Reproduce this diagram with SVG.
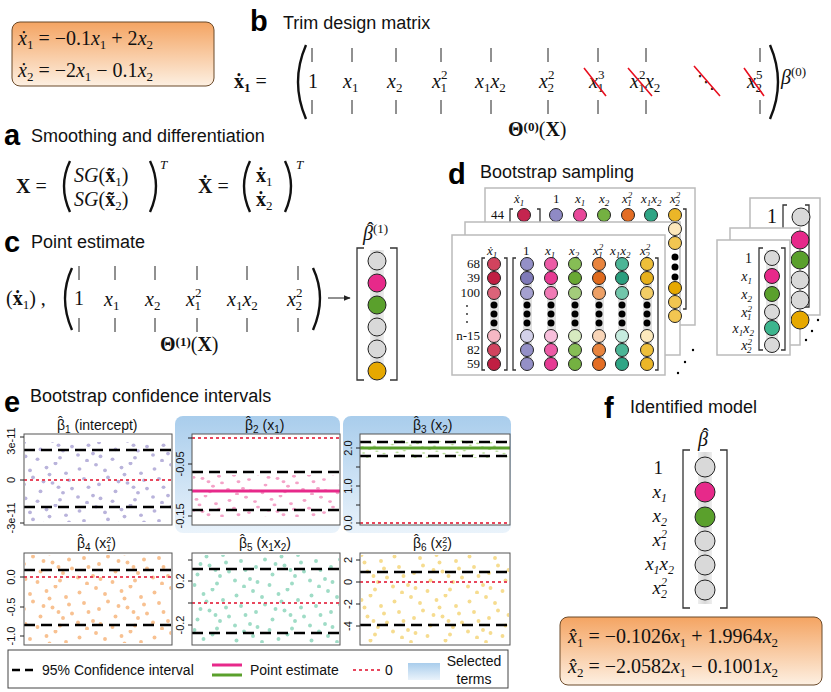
<svg xmlns="http://www.w3.org/2000/svg" width="831" height="692" viewBox="0 0 831 692">
<style>
.h{font-family:"Liberation Sans",Arial,sans-serif;font-size:18px;fill:#111}
.L{font-family:"Liberation Sans",Arial,sans-serif;font-size:29px;font-weight:bold;fill:#000}
.m{font-family:"Liberation Serif",serif;font-style:italic;font-size:20px;fill:#111}
.r{font-family:"Liberation Serif",serif;font-size:20px;fill:#111}
.b{font-family:"Liberation Serif",serif;font-weight:bold;font-size:20px;fill:#111}
.s{font-family:"Liberation Serif",serif;font-style:normal;font-size:13px;fill:#111}
.si{font-family:"Liberation Serif",serif;font-style:italic;font-size:13px;fill:#111}
.ax{font-family:"Liberation Sans",Arial,sans-serif;font-size:11px;fill:#111}
.pt{font-family:"Liberation Sans",Arial,sans-serif;font-size:14px;fill:#111}
.bar{stroke:#222;stroke-width:1;fill:none}
.par{stroke:#111;stroke-width:2.4;fill:none}
.brk{stroke:#333;stroke-width:1.3;fill:none}
.cc{stroke:#222;stroke-width:1}
.card{fill:#fff;stroke:#bbb;stroke-width:1.5}
.dash{stroke:#000;stroke-width:2.5;stroke-dasharray:11,6}
.zero{stroke:#e8475d;stroke-width:1.8;stroke-dasharray:3,3}
.box{fill:none;stroke:#555;stroke-width:1}
.x{stroke:#e8101f;stroke-width:1.6}
</style>
<defs>
<linearGradient id="og" x1="0" y1="0" x2="0" y2="1"><stop offset="0" stop-color="#f4a462"/><stop offset="1" stop-color="#fdf0e2"/></linearGradient>
<linearGradient id="bg" x1="0" y1="0" x2="0" y2="1"><stop offset="0" stop-color="#a9cdec"/><stop offset="1" stop-color="#eaf3fb"/></linearGradient>
<linearGradient id="gv" x1="0" y1="0" x2="1" y2="0"><stop offset="0" stop-color="#eee"/><stop offset="0.5" stop-color="#d8d8d8"/><stop offset="1" stop-color="#eee"/></linearGradient>
<marker id="ar" viewBox="0 0 10 10" refX="9" refY="5" markerWidth="7" markerHeight="7" orient="auto"><path d="M0,1 L10,5 L0,9 z" fill="#222"/></marker>
<g id="dots">
<circle cx="3" cy="5" r="1.3"/><circle cx="9" cy="18" r="1.3"/><circle cx="14" cy="2" r="1.3"/><circle cx="17" cy="26" r="1.3"/><circle cx="22" cy="11" r="1.3"/><circle cx="27" cy="21" r="1.3"/><circle cx="31" cy="4" r="1.3"/><circle cx="35" cy="15" r="1.3"/><circle cx="40" cy="27" r="1.3"/><circle cx="44" cy="8" r="1.3"/><circle cx="48" cy="19" r="1.3"/><circle cx="6" cy="12" r="1.3"/><circle cx="12" cy="24" r="1.3"/><circle cx="20" cy="6" r="1.3"/><circle cx="25" cy="28" r="1.3"/><circle cx="29" cy="14" r="1.3"/><circle cx="37" cy="1" r="1.3"/><circle cx="42" cy="22" r="1.3"/><circle cx="46" cy="13" r="1.3"/><circle cx="2" cy="25" r="1.3"/><circle cx="16" cy="16" r="1.3"/><circle cx="33" cy="9" r="1.3"/><circle cx="39" cy="18" r="1.3"/><circle cx="8" cy="29" r="1.3"/>
</g>
<pattern id="p1" width="50" height="30" patternUnits="userSpaceOnUse" patternTransform="scale(1.5,1.4)"><use href="#dots" fill="#b9b3db"/></pattern>
<pattern id="p2" width="50" height="30" patternUnits="userSpaceOnUse" patternTransform="scale(1.5,1.1)"><use href="#dots" fill="#f4a3c8"/></pattern>
<pattern id="p3" width="50" height="30" patternUnits="userSpaceOnUse" patternTransform="scale(1.2,0.6)"><use href="#dots" fill="#b7dc95"/></pattern>
<pattern id="p4" width="50" height="30" patternUnits="userSpaceOnUse" patternTransform="scale(1.5,1.5)"><use href="#dots" fill="#f8c191"/></pattern>
<pattern id="p5" width="50" height="30" patternUnits="userSpaceOnUse" patternTransform="translate(7,3) scale(1.5,1.5)"><use href="#dots" fill="#9fdcc6"/></pattern>
<pattern id="p6" width="50" height="30" patternUnits="userSpaceOnUse" patternTransform="translate(15,9) scale(1.5,1.5)"><use href="#dots" fill="#f6dc8f"/></pattern>
</defs>
<rect width="831" height="692" fill="#fff"/>

<g id="system">
<rect x="12" y="22" width="202" height="64" rx="8" fill="url(#og)" stroke="#6b4a2a" stroke-width="1"/>
<text class="m" x="18" y="45">ẋ<tspan class="s" dy="4">1</tspan><tspan dy="-4" font-style="normal"> = −0.1</tspan>x<tspan class="s" dy="4">1</tspan><tspan dy="-4" font-style="normal"> + 2</tspan>x<tspan class="s" dy="4">2</tspan></text>
<text class="m" x="18" y="77">ẋ<tspan class="s" dy="4">2</tspan><tspan dy="-4" font-style="normal"> = −2</tspan>x<tspan class="s" dy="4">1</tspan><tspan dy="-4" font-style="normal"> − 0.1</tspan>x<tspan class="s" dy="4">2</tspan></text>
</g>

<g id="panel-b">
<text class="L" x="250" y="31">b</text>
<text class="h" x="283" y="29">Trim design matrix</text>
<text class="b" x="234" y="88">ẋ<tspan class="s" dy="4">1</tspan><tspan dy="-4" font-weight="normal"> =</tspan></text>
<path class="par" d="M306,45 Q290,82 306,119"/>
<path class="par" d="M770,45 Q786,82 770,119"/>
<path class="bar" d="M312,48v14M312,100v14M352,48v14M352,100v14M396,48v14M396,100v14M441,48v14M441,100v14M491,48v14M491,100v14M548,48v14M548,100v14M598,48v14M598,100v14M646,48v14M646,100v14M760,48v14M760,100v14"/>
<text class="r" x="308" y="88">1</text>
<text class="m" x="343" y="88">x<tspan class="s" dy="4">1</tspan></text>
<text class="m" x="387" y="88">x<tspan class="s" dy="4">2</tspan></text>
<text class="m" x="432" y="88">x<tspan class="s" dy="-9">2</tspan><tspan class="s" dx="-7" dy="13">1</tspan></text>
<text class="m" x="475" y="88">x<tspan class="s" dy="4">1</tspan><tspan dy="-4">x</tspan><tspan class="s" dy="4">2</tspan></text>
<text class="m" x="539" y="88">x<tspan class="s" dy="-9">2</tspan><tspan class="s" dx="-7" dy="13">2</tspan></text>
<text class="m" x="589" y="88">x<tspan class="s" dy="-9">3</tspan><tspan class="s" dx="-7" dy="13">1</tspan></text>
<text class="m" x="630" y="88">x<tspan class="s" dy="-9">2</tspan><tspan class="s" dx="-7" dy="13">1</tspan><tspan dy="-4">x</tspan><tspan class="s" dy="4">2</tspan></text>
<text x="697" y="88" font-family="DejaVu Sans,sans-serif" font-size="18" fill="#111">⋱</text>
<text class="m" x="747" y="88">x<tspan class="s" dy="-9">5</tspan><tspan class="s" dx="-7" dy="13">2</tspan></text>
<path class="x" d="M584,68L606,96M628,68L652,96M694,66L720,96M744,68L764,96"/>
<text class="m" x="781" y="84">β<tspan class="s" dy="-8">(0)</tspan></text>
<text class="b" x="508" y="136" font-size="15">Θ<tspan class="s" dy="-5">(0)</tspan><tspan font-weight="normal" dy="5">(</tspan>X<tspan font-weight="normal">)</tspan></text>
</g>

<g id="panel-a">
<text class="L" x="4" y="145">a</text>
<text class="h" x="31" y="142">Smoothing and differentiation</text>
<text class="b" x="16" y="193">X<tspan font-weight="normal"> =</tspan></text>
<path class="par" d="M70,161 Q58,186 70,212"/>
<path class="par" d="M150,161 Q162,186 150,212"/>
<text class="m" x="74" y="182">SG<tspan font-style="normal">(</tspan><tspan font-weight="bold" font-style="normal">x̃</tspan><tspan class="s" dy="4">1</tspan><tspan dy="-4" font-style="normal">)</tspan></text>
<text class="m" x="74" y="206">SG<tspan font-style="normal">(</tspan><tspan font-weight="bold" font-style="normal">x̃</tspan><tspan class="s" dy="4">2</tspan><tspan dy="-4" font-style="normal">)</tspan></text>
<text class="si" x="160" y="169">T</text>
<text class="b" x="198" y="193">Ẋ<tspan font-weight="normal"> =</tspan></text>
<path class="par" d="M250,161 Q238,186 250,212"/>
<path class="par" d="M285,161 Q297,186 285,212"/>
<text class="b" x="256" y="182">ẋ<tspan class="s" font-weight="normal" dy="4">1</tspan></text>
<text class="b" x="256" y="206">ẋ<tspan class="s" font-weight="normal" dy="4">2</tspan></text>
<text class="si" x="296" y="169">T</text>
</g>

<g id="panel-c">
<text class="L" x="4" y="252">c</text>
<text class="h" x="31" y="248">Point estimate</text>
<text class="r" x="6" y="305">(<tspan font-weight="bold">ẋ</tspan><tspan class="s" dy="4">1</tspan><tspan dy="-4">) ,</tspan></text>
<path class="par" d="M72,268 Q58,298 72,330"/>
<path class="par" d="M313,268 Q327,298 313,330"/>
<path class="bar" d="M79,266v14M79,318v14M115,266v14M115,318v14M155,266v14M155,318v14M197,266v14M197,318v14M247,266v14M247,318v14M298,266v14M298,318v14"/>
<text class="r" x="74" y="305">1</text>
<text class="m" x="104" y="306">x<tspan class="s" dy="4">1</tspan></text>
<text class="m" x="145" y="306">x<tspan class="s" dy="4">2</tspan></text>
<text class="m" x="186" y="306">x<tspan class="s" dy="-9">2</tspan><tspan class="s" dx="-7" dy="13">1</tspan></text>
<text class="m" x="227" y="306">x<tspan class="s" dy="4">1</tspan><tspan dy="-4">x</tspan><tspan class="s" dy="4">2</tspan></text>
<text class="m" x="287" y="306">x<tspan class="s" dy="-9">2</tspan><tspan class="s" dx="-7" dy="13">2</tspan></text>
<text class="b" x="160" y="351" font-size="15">Θ<tspan class="s" dy="-5">(1)</tspan><tspan font-weight="normal" dy="5">(</tspan>X<tspan font-weight="normal">)</tspan></text>
<line x1="328" y1="298" x2="350" y2="298" stroke="#222" stroke-width="1" marker-end="url(#ar)"/>
<text class="m" x="363" y="240">β<tspan class="s" dy="-7">(1)</tspan></text>
<text class="r" x="367" y="237" font-size="16">ˆ</text>
<rect x="370" y="250" width="14" height="130" fill="url(#gv)"/>
<path class="brk" d="M364,248h-7v132h7M390,248h7v132h-7"/>
<circle class="cc" cx="377" cy="261" r="9" fill="#d9d9d9"/>
<circle class="cc" cx="377" cy="283" r="9" fill="#e7298a"/>
<circle class="cc" cx="377" cy="305" r="9" fill="#5aa02c"/>
<circle class="cc" cx="377" cy="327" r="9" fill="#d9d9d9"/>
<circle class="cc" cx="377" cy="349" r="9" fill="#d9d9d9"/>
<circle class="cc" cx="377" cy="371" r="9" fill="#e6a800"/>
</g>

<g id="panel-d">
<text class="L" x="448" y="184">d</text>
<text class="h" x="480" y="178">Bootstrap sampling</text>
<rect class="card" x="485" y="188" width="210" height="137"/>
<text class="si" x="514" y="203">ẋ<tspan font-size="9" dy="3">1</tspan></text>
<text class="s" x="553" y="203">1</text><text class="si" x="575" y="203">x<tspan font-size="9" dy="3">1</tspan></text><text class="si" x="599" y="203">x<tspan font-size="9" dy="3">2</tspan></text><text class="si" x="622" y="203">x<tspan font-size="9" dy="-5">2</tspan><tspan font-size="9" dx="-5" dy="8">1</tspan></text><text class="si" x="641" y="203">x<tspan font-size="9" dy="3">1</tspan><tspan dy="-3">x</tspan><tspan font-size="9" dy="3">2</tspan></text><text class="si" x="670" y="203">x<tspan font-size="9" dy="-5">2</tspan><tspan font-size="9" dx="-5" dy="8">2</tspan></text>
<text class="s" x="491" y="219">44</text>
<path class="brk" d="M513,209h-3v100h3M537,209h3v100h-3"/>
<circle class="cc" cx="524" cy="215" r="6.5" fill="#c5254f"/>
<circle class="cc" cx="556" cy="215" r="6.5" fill="#8f8ac5"/><circle class="cc" cx="580" cy="215" r="6.5" fill="#e8489a"/><circle class="cc" cx="604" cy="215" r="6.5" fill="#74b141"/><circle class="cc" cx="628" cy="215" r="6.5" fill="#e36d24"/><circle class="cc" cx="651" cy="215" r="6.5" fill="#2fa585"/><circle class="cc" cx="675" cy="215" r="6.5" fill="#ebb628"/>
<path class="brk" d="M683,209h3v100h-3"/>
<rect class="card" x="465" y="222" width="215" height="133"/>
<circle class="cc" cx="675" cy="229" r="6.5" fill="#fde8bb"/><circle class="cc" cx="675" cy="243" r="6.5" fill="#f2c651"/>
<circle cx="675" cy="257" r="3.5"/><circle cx="675" cy="267" r="3.5"/><circle cx="675" cy="277" r="3.5"/>
<circle class="cc" cx="675" cy="288" r="6.5" fill="#e6a800"/><circle class="cc" cx="675" cy="302" r="6.5" fill="#f2c651"/><circle class="cc" cx="675" cy="316" r="6.5" fill="#f2c651"/>
<rect class="card" x="452" y="235" width="213" height="140"/>
<text class="si" x="487" y="255">ẋ<tspan font-size="9" dy="3">1</tspan></text>
<text class="s" x="523" y="255">1</text><text class="si" x="545" y="255">x<tspan font-size="9" dy="3">1</tspan></text><text class="si" x="569" y="255">x<tspan font-size="9" dy="3">2</tspan></text><text class="si" x="593" y="255">x<tspan font-size="9" dy="-5">2</tspan><tspan font-size="9" dx="-5" dy="8">1</tspan></text><text class="si" x="610" y="255">x<tspan font-size="9" dy="3">1</tspan><tspan dy="-3">x</tspan><tspan font-size="9" dy="3">2</tspan></text><text class="si" x="640" y="255">x<tspan font-size="9" dy="-5">2</tspan><tspan font-size="9" dx="-5" dy="8">2</tspan></text>
<g class="s" text-anchor="end"><text x="480" y="268">68</text><text x="480" y="282">39</text><text x="480" y="297">100</text><text x="480" y="340">n-15</text><text x="480" y="354">82</text><text x="480" y="368">59</text></g>
<g fill="#222"><circle cx="467" cy="306" r="0.9"/><circle cx="467" cy="314" r="0.9"/><circle cx="467" cy="322" r="0.9"/></g>
<path class="brk" d="M485,258h-3v112h3M504,258h3v112h-3M516,258h-3v112h3M655,258h3v112h-3"/>
<g fill="#e0e0e0">
<rect x="490" y="262" width="9" height="102"/><rect x="523" y="262" width="9" height="102"/><rect x="547" y="262" width="9" height="102"/><rect x="571" y="262" width="9" height="102"/><rect x="595" y="262" width="9" height="102"/><rect x="618" y="262" width="9" height="102"/><rect x="643" y="262" width="9" height="102"/>
</g>
<g class="cc">
<circle cx="494" cy="264" r="6.5" fill="#d1435e"/><circle cx="494" cy="278" r="6.5" fill="#c01f43"/><circle cx="494" cy="293" r="6.5" fill="#db6379"/><circle cx="494" cy="336" r="6.5" fill="#f6b8c4"/><circle cx="494" cy="350" r="6.5" fill="#d1435e"/><circle cx="494" cy="364" r="6.5" fill="#c01f43"/>
<circle cx="527" cy="264" r="6.5" fill="#9490c7"/><circle cx="527" cy="278" r="6.5" fill="#7f7ab8"/><circle cx="527" cy="293" r="6.5" fill="#a5a1d0"/><circle cx="527" cy="336" r="6.5" fill="#d3d1e9"/><circle cx="527" cy="350" r="6.5" fill="#9490c7"/><circle cx="527" cy="364" r="6.5" fill="#9490c7"/>
<circle cx="551" cy="264" r="6.5" fill="#ec5ba6"/><circle cx="551" cy="278" r="6.5" fill="#e63a93"/><circle cx="551" cy="293" r="6.5" fill="#f07ab5"/><circle cx="551" cy="336" r="6.5" fill="#f8bfdc"/><circle cx="551" cy="350" r="6.5" fill="#ec5ba6"/><circle cx="551" cy="364" r="6.5" fill="#e63a93"/>
<circle cx="575" cy="264" r="6.5" fill="#86bd55"/><circle cx="575" cy="278" r="6.5" fill="#69a833"/><circle cx="575" cy="293" r="6.5" fill="#a3cc7b"/><circle cx="575" cy="336" r="6.5" fill="#d7ebc0"/><circle cx="575" cy="350" r="6.5" fill="#86bd55"/><circle cx="575" cy="364" r="6.5" fill="#74b141"/>
<circle cx="599" cy="264" r="6.5" fill="#e8843e"/><circle cx="599" cy="278" r="6.5" fill="#df6a1d"/><circle cx="599" cy="293" r="6.5" fill="#eda066"/><circle cx="599" cy="336" r="6.5" fill="#f8d5b8"/><circle cx="599" cy="350" r="6.5" fill="#e8843e"/><circle cx="599" cy="364" r="6.5" fill="#e36d24"/>
<circle cx="622" cy="264" r="6.5" fill="#4cb596"/><circle cx="622" cy="278" r="6.5" fill="#2a9e7e"/><circle cx="622" cy="293" r="6.5" fill="#72c6ab"/><circle cx="622" cy="336" r="6.5" fill="#c6ecdf"/><circle cx="622" cy="350" r="6.5" fill="#4cb596"/><circle cx="622" cy="364" r="6.5" fill="#2fa585"/>
<circle cx="647" cy="264" r="6.5" fill="#eebf3a"/><circle cx="647" cy="278" r="6.5" fill="#e6b01c"/><circle cx="647" cy="293" r="6.5" fill="#f2cd66"/><circle cx="647" cy="336" r="6.5" fill="#fce9bd"/><circle cx="647" cy="350" r="6.5" fill="#eebf3a"/><circle cx="647" cy="364" r="6.5" fill="#ebb628"/>
</g>
<g fill="#000">
<circle cx="494" cy="305" r="3.5"/><circle cx="494" cy="314" r="3.5"/><circle cx="494" cy="323" r="3.5"/>
<circle cx="527" cy="305" r="3.5"/><circle cx="527" cy="314" r="3.5"/><circle cx="527" cy="323" r="3.5"/>
<circle cx="551" cy="305" r="3.5"/><circle cx="551" cy="314" r="3.5"/><circle cx="551" cy="323" r="3.5"/>
<circle cx="575" cy="305" r="3.5"/><circle cx="575" cy="314" r="3.5"/><circle cx="575" cy="323" r="3.5"/>
<circle cx="599" cy="305" r="3.5"/><circle cx="599" cy="314" r="3.5"/><circle cx="599" cy="323" r="3.5"/>
<circle cx="622" cy="305" r="3.5"/><circle cx="622" cy="314" r="3.5"/><circle cx="622" cy="323" r="3.5"/>
<circle cx="647" cy="305" r="3.5"/><circle cx="647" cy="314" r="3.5"/><circle cx="647" cy="323" r="3.5"/>
<circle cx="693" cy="350" r="1.2"/><circle cx="685" cy="362" r="1.2"/><circle cx="678" cy="373" r="1.2"/>
</g>
<rect class="card" x="750" y="198" width="70" height="117"/>
<text class="r" x="767" y="223" font-size="14">1</text>
<path class="brk" d="M787,205h-4v102h4M805,205h4v102h-4"/>
<circle class="cc" cx="801" cy="217" r="9" fill="#d9d9d9"/>
<rect class="card" x="730" y="228" width="70" height="117"/>
<circle class="cc" cx="800" cy="240" r="9" fill="#e7298a"/><circle class="cc" cx="800" cy="260" r="9" fill="#5aa02c"/><circle class="cc" cx="800" cy="280" r="9" fill="#d9d9d9"/><circle class="cc" cx="800" cy="300" r="9" fill="#d9d9d9"/><circle class="cc" cx="800" cy="320" r="9" fill="#e6a800"/>
<rect x="731" y="229" width="60" height="115" fill="#fff"/>
<rect class="card" x="717" y="240" width="73" height="115"/>
<rect x="766" y="250" width="12" height="100" fill="#e6e6e6"/>
<path class="brk" d="M763,248h-4v102h4M781,248h4v102h-4"/>
<g text-anchor="end" font-family="Liberation Serif,serif" font-style="italic" font-size="14" fill="#111"><text x="752" y="263" font-style="normal">1</text><text x="752" y="281">x<tspan font-size="9" dy="3">1</tspan></text><text x="752" y="299">x<tspan font-size="9" dy="3">2</tspan></text><text x="752" y="317">x<tspan font-size="9" dy="-5">2</tspan><tspan font-size="9" dx="-5" dy="8">1</tspan></text><text x="754" y="333">x<tspan font-size="9" dy="3">1</tspan><tspan dy="-3">x</tspan><tspan font-size="9" dy="3">2</tspan></text><text x="752" y="350">x<tspan font-size="9" dy="-5">2</tspan><tspan font-size="9" dx="-5" dy="8">2</tspan></text></g>
<circle class="cc" cx="772" cy="258" r="7.5" fill="#d9d9d9"/><circle class="cc" cx="772" cy="276" r="7.5" fill="#e7298a"/><circle class="cc" cx="772" cy="294" r="7.5" fill="#5aa02c"/><circle class="cc" cx="772" cy="312" r="7.5" fill="#d9d9d9"/><circle class="cc" cx="772" cy="328" r="7.5" fill="#3db58e"/><circle class="cc" cx="772" cy="345" r="7.5" fill="#d9d9d9"/>
<g fill="#000"><circle cx="818" cy="320" r="1.2"/><circle cx="812" cy="331" r="1.2"/><circle cx="806" cy="340" r="1.2"/></g>
</g>

<g id="panel-e">
<text class="L" x="4" y="412">e</text>
<text class="h" x="30" y="402">Bootstrap confidence intervals</text>
<rect x="175" y="416" width="165" height="117" rx="8" fill="url(#bg)"/>
<rect x="343" y="416" width="168" height="117" rx="8" fill="url(#bg)"/>
<rect x="192" y="434" width="148" height="91" fill="#fff"/>
<rect x="360" y="434" width="150" height="91" fill="#fff"/>
<rect x="25" y="442" width="146" height="80" fill="url(#p1)"/>
<line class="dash" x1="24" y1="450" x2="172" y2="450"/><line class="dash" x1="24" y1="507" x2="172" y2="507"/>
<line class="zero" x1="24" y1="480" x2="172" y2="480"/>
<rect class="box" x="24" y="434" width="148" height="91"/>
<path class="bar" d="M20,437h4M20,480h4M20,523h4"/>
<g class="ax" text-anchor="middle"><text transform="translate(15,441) rotate(-90)">3e-11</text><text transform="translate(15,480) rotate(-90)">0</text><text transform="translate(15,518) rotate(-90)">-3e-11</text></g>
<text class="pt" x="57" y="430">β<tspan font-size="10" dy="3">1</tspan><tspan dy="-3">   (intercept)</tspan></text><text class="pt" x="58" y="427">ˆ</text>
<rect x="193" y="475" width="146" height="42" fill="url(#p2)"/>
<line class="zero" x1="192" y1="438" x2="340" y2="438"/>
<line class="dash" x1="192" y1="472" x2="340" y2="472"/><line class="dash" x1="192" y1="510" x2="340" y2="510"/>
<line x1="192" y1="491" x2="340" y2="491" stroke="#e7298a" stroke-width="3"/>
<rect class="box" x="192" y="434" width="148" height="91"/>
<path class="bar" d="M188,438h4M188,464h4M188,490h4M188,516h4"/>
<g class="ax" text-anchor="middle"><text transform="translate(184,464) rotate(-90)">-0.05</text><text transform="translate(184,516) rotate(-90)">-0.15</text></g>
<text class="pt" x="245" y="430">β<tspan font-size="10" dy="3">2</tspan><tspan dy="-3">   (x</tspan><tspan font-size="10" dy="3">1</tspan><tspan dy="-3">)</tspan></text><text class="pt" x="246" y="427">ˆ</text>
<rect x="361" y="440" width="148" height="18" fill="url(#p3)"/>
<line class="dash" x1="360" y1="442" x2="510" y2="442"/><line class="dash" x1="360" y1="456" x2="510" y2="456"/>
<line x1="360" y1="448" x2="510" y2="448" stroke="#5aa02c" stroke-width="3"/>
<line class="zero" x1="360" y1="523" x2="510" y2="523"/>
<rect class="box" x="360" y="434" width="150" height="91"/>
<path class="bar" d="M356,448h4M356,467h4M356,486h4M356,505h4M356,523h4"/>
<g class="ax" text-anchor="middle"><text transform="translate(352,448) rotate(-90)">2.0</text><text transform="translate(352,486) rotate(-90)">1.0</text><text transform="translate(352,523) rotate(-90)">0.0</text></g>
<text class="pt" x="413" y="430">β<tspan font-size="10" dy="3">3</tspan><tspan dy="-3">   (x</tspan><tspan font-size="10" dy="3">2</tspan><tspan dy="-3">)</tspan></text><text class="pt" x="414" y="427">ˆ</text>
<rect x="25" y="555" width="146" height="88" fill="url(#p4)"/>
<line class="dash" x1="24" y1="570" x2="172" y2="570"/><line class="dash" x1="24" y1="625" x2="172" y2="625"/>
<line class="zero" x1="24" y1="577" x2="172" y2="577"/>
<rect class="box" x="24" y="553" width="148" height="92"/>
<path class="bar" d="M20,577h4M20,607h4M20,636h4"/>
<g class="ax" text-anchor="middle"><text transform="translate(15,577) rotate(-90)">0.0</text><text transform="translate(15,607) rotate(-90)">-0.5</text><text transform="translate(15,636) rotate(-90)">-1.0</text></g>
<text class="pt" x="77" y="548">β<tspan font-size="10" dy="3">4</tspan><tspan dy="-3">   (x</tspan><tspan font-size="9" dy="-5">2</tspan><tspan font-size="9" dx="-5" dy="8">1</tspan><tspan dy="-3">)</tspan></text><text class="pt" x="78" y="545">ˆ</text>
<rect x="193" y="555" width="146" height="88" fill="url(#p5)"/>
<line class="dash" x1="192" y1="569" x2="340" y2="569"/><line class="dash" x1="192" y1="633" x2="340" y2="633"/>
<line class="zero" x1="192" y1="603" x2="340" y2="603"/>
<rect class="box" x="192" y="553" width="148" height="92"/>
<path class="bar" d="M188,560h4M188,581h4M188,603h4M188,625h4"/>
<g class="ax" text-anchor="middle"><text transform="translate(184,581) rotate(-90)">0.2</text><text transform="translate(184,625) rotate(-90)">-0.2</text></g>
<text class="pt" x="239" y="548">β<tspan font-size="10" dy="3">5</tspan><tspan dy="-3">   (x</tspan><tspan font-size="10" dy="3">1</tspan><tspan dy="-3">x</tspan><tspan font-size="10" dy="3">2</tspan><tspan dy="-3">)</tspan></text><text class="pt" x="240" y="545">ˆ</text>
<rect x="361" y="555" width="148" height="88" fill="url(#p6)"/>
<line class="dash" x1="360" y1="572" x2="510" y2="572"/><line class="dash" x1="360" y1="625" x2="510" y2="625"/>
<line class="zero" x1="360" y1="582" x2="510" y2="582"/>
<rect class="box" x="360" y="553" width="150" height="92"/>
<path class="bar" d="M356,560h4M356,582h4M356,604h4M356,626h4"/>
<g class="ax" text-anchor="middle"><text transform="translate(352,560) rotate(-90)">2</text><text transform="translate(352,582) rotate(-90)">0</text><text transform="translate(352,604) rotate(-90)">-2</text><text transform="translate(352,626) rotate(-90)">-4</text></g>
<text class="pt" x="413" y="548">β<tspan font-size="10" dy="3">6</tspan><tspan dy="-3">   (x</tspan><tspan font-size="9" dy="-5">2</tspan><tspan font-size="9" dx="-5" dy="8">2</tspan><tspan dy="-3">)</tspan></text><text class="pt" x="414" y="545">ˆ</text>
<rect x="8" y="650" width="500" height="38" fill="#fff" stroke="#444" stroke-width="1"/>
<line x1="12" y1="670" x2="36" y2="670" stroke="#000" stroke-width="2.5" stroke-dasharray="8,5"/>
<text class="pt" x="42" y="675">95% Confidence interval</text>
<line x1="212" y1="665" x2="242" y2="665" stroke="#e7298a" stroke-width="3"/>
<line x1="212" y1="675" x2="242" y2="675" stroke="#5aa02c" stroke-width="3"/>
<text class="pt" x="250" y="675">Point estimate</text>
<line class="zero" x1="353" y1="670" x2="380" y2="670"/>
<text class="pt" x="385" y="675">0</text>
<rect x="408" y="663" width="32" height="17" fill="url(#bg)"/>
<text class="pt" x="474" y="666" text-anchor="middle">Selected</text>
<text class="pt" x="474" y="684" text-anchor="middle">terms</text>
</g>

<g id="panel-f">
<text class="L" x="604" y="418">f</text>
<text class="h" x="630" y="413">Identified model</text>
<text class="m" x="698" y="446">β</text><text class="r" x="702" y="443" font-size="16">ˆ</text>
<rect x="698" y="452" width="14" height="152" fill="url(#gv)"/>
<path class="brk" d="M690,450h-7v158h7M720,450h7v158h-7"/>
<g text-anchor="end" font-family="Liberation Serif,serif" font-style="italic" font-size="19" fill="#111"><text x="663" y="474" font-style="normal">1</text><text x="667" y="498">x<tspan font-size="12" dy="4">1</tspan></text><text x="667" y="522">x<tspan font-size="12" dy="4">2</tspan></text><text x="667" y="546">x<tspan font-size="12" dy="-8">2</tspan><tspan font-size="12" dx="-6" dy="12">1</tspan></text><text x="674" y="570">x<tspan font-size="12" dy="4">1</tspan><tspan dy="-4">x</tspan><tspan font-size="12" dy="4">2</tspan></text><text x="667" y="594">x<tspan font-size="12" dy="-8">2</tspan><tspan font-size="12" dx="-6" dy="12">2</tspan></text></g>
<circle class="cc" cx="705" cy="467" r="10" fill="#d9d9d9"/><circle class="cc" cx="705" cy="492" r="10" fill="#e7298a"/><circle class="cc" cx="705" cy="517" r="10" fill="#5aa02c"/><circle class="cc" cx="705" cy="541" r="10" fill="#d9d9d9"/><circle class="cc" cx="705" cy="565" r="10" fill="#d9d9d9"/><circle class="cc" cx="705" cy="590" r="10" fill="#d9d9d9"/>
<rect x="560" y="617" width="262" height="68" rx="8" fill="url(#og)" stroke="#6b4a2a" stroke-width="1"/>
<text class="m" x="568" y="643" font-size="18">x̂<tspan class="s" dy="4">1</tspan><tspan dy="-4" font-style="normal"> = −0.1026</tspan>x<tspan class="s" dy="4">1</tspan><tspan dy="-4" font-style="normal"> + 1.9964</tspan>x<tspan class="s" dy="4">2</tspan></text>
<text class="m" x="568" y="673" font-size="18">x̂<tspan class="s" dy="4">2</tspan><tspan dy="-4" font-style="normal"> = −2.0582</tspan>x<tspan class="s" dy="4">1</tspan><tspan dy="-4" font-style="normal"> − 0.1001</tspan>x<tspan class="s" dy="4">2</tspan></text>
</g>
</svg>
